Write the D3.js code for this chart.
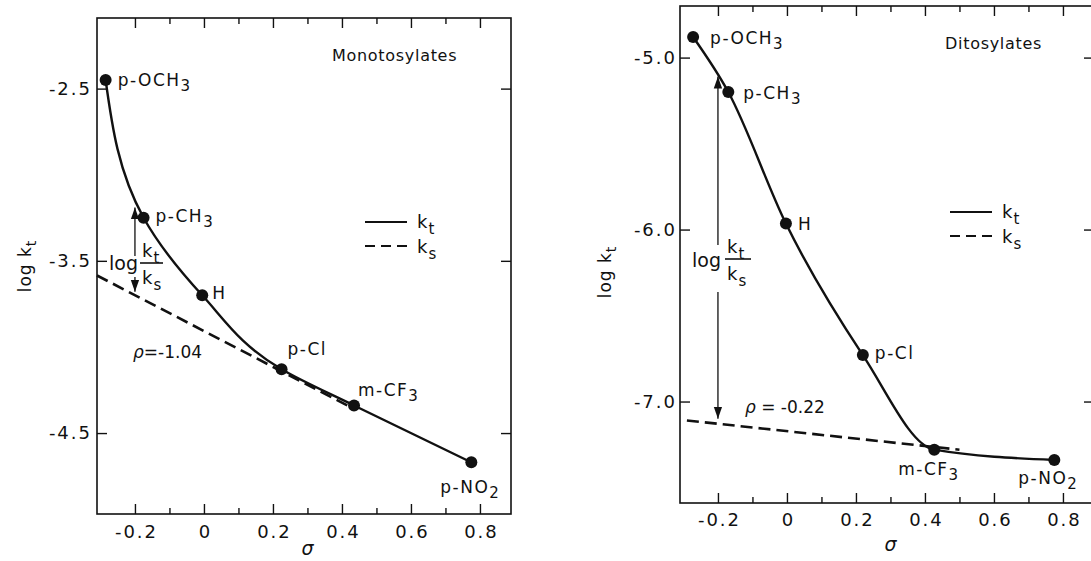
<!DOCTYPE html>
<html>
<head>
<meta charset="utf-8">
<script src="https://cdn.jsdelivr.net/npm/d3@7"></script>
<style>
  body { margin: 0; background: #fff; }
  svg text { font-family: "DejaVu Sans", "Liberation Sans", sans-serif; fill: #111; }
</style>
</head>
<body>
<svg id="chart" width="1091" height="561"></svg>
<script>
// substituents, in plotting order
const substituents = ["p-OCH3", "p-CH3", "H", "p-Cl", "m-CF3", "p-NO2"];

// sigma / log kt
const monoSigma = [-0.285, -0.175, -0.005, 0.225, 0.435, 0.775];
const monoLogKt = [-2.45, -3.25, -3.70, -4.13, -4.34, -4.67];
const diSigma = [-0.272, -0.17, -0.003, 0.22, 0.427, 0.775];
const diLogKt = [-4.88, -5.20, -5.965, -6.73, -7.28, -7.34];

// dashed ks lines (end points)
const monoKsSigma = [-0.31, 0.43];
const monoKsLog = [-3.585, -4.355];
const diKsSigma = [-0.29, 0.50];
const diKsLog = [-7.11, -7.28];

// vertical log(kt/ks) arrow: [ks, kt] at sigma = -0.2
const arrowSigma = -0.2;
const monoArrow = [-3.68, -3.19];
const diArrow = [-7.10, -5.11];

const xTicks = [-0.2, 0, 0.2, 0.4, 0.6, 0.8];
const xMinorTicks = [-0.1, 0.1, 0.3, 0.5, 0.7];
const monoYTicks = [-2.5, -3.5, -4.5];
const diYTicks = [-5.0, -6.0, -7.0];

const svg = d3.select("#chart");

// reusable arrow head
svg.append("defs").append("marker")
    .attr("id", "head")
    .attr("viewBox", "0 0 10 10")
    .attr("refX", 10).attr("refY", 5)
    .attr("markerWidth", 12).attr("markerHeight", 12)
    .attr("markerUnits", "userSpaceOnUse")
    .attr("orient", "auto-start-reverse")
    .append("path")
    .attr("d", "M0,1.5L10,5L0,8.5Z")
    .attr("fill", "#111");

// plain hyphen instead of the unicode minus d3 uses
const hy = s => s.replace("\u2212", "-");

// text with a trailing digit as subscript ("p-NO2" -> p-NO + sub 2)
function subText(g, str, x, y, size) {
    const t = g.append("text").attr("x", x).attr("y", y)
        .style("font-size", size + "px").style("letter-spacing", "1.5px");
    const m = str.match(/^(.*?)(\d)$/);
    if (m) {
        t.append("tspan").text(m[1]);
        t.append("tspan").attr("dy", 5).style("font-size", (size - 2) + "px").text(m[2]);
    } else {
        t.text(str);
    }
    return t;
}

function kSub(g, x, y, sub, size) {
    const t = g.append("text").attr("x", x).attr("y", y).style("font-size", size + "px");
    t.append("tspan").text("k");
    t.append("tspan").attr("dy", 6).attr("dx", 1).style("font-size", (size - 3) + "px").text(sub);
    return t;
}

function drawPanel(p) {
    const g = svg.append("g");
    const x = d3.scaleLinear().domain([-0.31, 0.89]).range([p.left, p.right]);
    const y = d3.scaleLinear().domain(p.yDomain).range([p.top, p.bottom]);
    const fmtX = d => d === 0 ? "0" : hy(d3.format(".1f")(d));
    const fmtY = d => hy(d3.format(".1f")(d));

    // axes, ticks pointing inward
    const bottom = g.append("g").attr("transform", `translate(0,${p.bottom})`)
        .call(d3.axisBottom(x).tickValues(xTicks).tickSizeInner(-10).tickSizeOuter(0)
            .tickPadding(p.xPad).tickFormat(fmtX));
    g.append("g").attr("transform", `translate(0,${p.bottom})`)
        .call(d3.axisBottom(x).tickValues(xMinorTicks).tickSize(-6).tickFormat(""));
    g.append("g").attr("transform", `translate(0,${p.top})`)
        .call(d3.axisTop(x).tickValues(xTicks).tickSize(-10).tickFormat(""));
    g.append("g").attr("transform", `translate(0,${p.top})`)
        .call(d3.axisTop(x).tickValues(xMinorTicks).tickSize(-6).tickFormat(""));
    g.append("g").attr("transform", `translate(${p.left},0)`)
        .call(d3.axisLeft(y).tickValues(p.yTicks).tickSizeInner(-10).tickSizeOuter(0)
            .tickPadding(p.yPad).tickFormat(fmtY));
    g.append("g").attr("transform", `translate(${p.right},0)`)
        .call(d3.axisRight(y).tickValues(p.yTicks).tickSize(-10).tickFormat(""));

    g.selectAll(".domain").remove();
    g.selectAll(".tick line").attr("stroke", "#111").attr("stroke-width", 1.4);
    g.selectAll(".tick text").attr("font-family", null)
        .style("font-size", "18px").style("letter-spacing", "2px");
    bottom.selectAll("text").attr("dx", 1);

    g.append("rect")
        .attr("x", p.left).attr("y", p.top)
        .attr("width", p.right - p.left).attr("height", p.bottom - p.top)
        .attr("fill", "none").attr("stroke", "#111").attr("stroke-width", 1.6);

    // axis titles
    const yt = g.append("text")
        .attr("transform", `translate(${p.yTitle[0]},${p.yTitle[1]}) rotate(-90)`)
        .attr("text-anchor", "middle").style("font-size", "17px").style("letter-spacing", "1px");
    yt.append("tspan").text("log k");
    yt.append("tspan").attr("dy", 5).style("font-size", "14px").text("t");
    g.append("text").attr("x", x(0.3)).attr("y", p.xTitleY)
        .attr("text-anchor", "middle").style("font-size", "19px")
        .style("font-style", "italic").text("σ");

    // ks dashed line
    const ks = d3.zip(p.ksSigma, p.ksLog);
    g.append("path")
        .attr("d", d3.line().x(d => x(d[0])).y(d => y(d[1]))(ks))
        .attr("fill", "none").attr("stroke", "#111")
        .attr("stroke-width", 2.6).attr("stroke-dasharray", "12,6");

    // kt smooth curve
    const pts = d3.zip(p.sigma, p.logKt);
    g.append("path")
        .attr("d", d3.line().x(d => x(d[0])).y(d => y(d[1])).curve(p.curve)(pts))
        .attr("fill", "none").attr("stroke", "#111").attr("stroke-width", 2.4);

    g.selectAll("circle.pt").data(pts).join("circle")
        .attr("class", "pt")
        .attr("cx", d => x(d[0])).attr("cy", d => y(d[1]))
        .attr("r", 6).attr("fill", "#111");

    substituents.forEach((s, i) => {
        const o = p.labelOff[i];
        subText(g, s, x(pts[i][0]) + o[0], y(pts[i][1]) + o[1], 17);
    });

    // log kt/ks arrow
    g.append("line")
        .attr("x1", x(arrowSigma)).attr("x2", x(arrowSigma))
        .attr("y1", y(p.arrow[0])).attr("y2", y(p.arrow[1]))
        .attr("stroke", "#111").attr("stroke-width", 1.3)
        .attr("marker-start", "url(#head)").attr("marker-end", "url(#head)");

    const a = p.ann;
    g.append("rect").attr("x", a.gap[0]).attr("y", a.gap[1])
        .attr("width", a.gap[2]).attr("height", a.gap[3]).attr("fill", "#fff");
    g.append("text").attr("x", a.logX).attr("y", a.logY)
        .style("font-size", "19px").text("log");
    g.append("line").attr("x1", a.barX1).attr("x2", a.barX2)
        .attr("y1", a.barY).attr("y2", a.barY)
        .attr("stroke", "#111").attr("stroke-width", 1.6);
    kSub(g, a.barX1 + 2, a.barY - 6, "t", 18);
    kSub(g, a.barX1 + 2, a.barY + 21, "s", 18);

    // rho
    const rt = g.append("text").attr("x", p.rho[0]).attr("y", p.rho[1]).style("font-size", "17px");
    rt.append("tspan").style("font-style", "italic").text("ρ");
    rt.append("tspan").text(p.rhoText);

    // legend
    const lg = p.legend;
    g.append("line").attr("x1", lg[0]).attr("x2", lg[0] + 42).attr("y1", lg[1]).attr("y2", lg[1])
        .attr("stroke", "#111").attr("stroke-width", 2.2);
    g.append("line").attr("x1", lg[0]).attr("x2", lg[0] + 42).attr("y1", lg[1] + 24).attr("y2", lg[1] + 24)
        .attr("stroke", "#111").attr("stroke-width", 2.2).attr("stroke-dasharray", "10,6");
    kSub(g, lg[0] + 52, lg[1] + 6, "t", 18);
    kSub(g, lg[0] + 52, lg[1] + 31, "s", 18);

    g.append("text").attr("x", p.title[0]).attr("y", p.title[1])
        .style("font-size", "16px").style("letter-spacing", "0.7px").text(p.titleText);
}

drawPanel({
    left: 97, right: 511, top: 18, bottom: 514,
    yDomain: [-2.09, -4.97], yTicks: monoYTicks, xPad: 11, yPad: 5,
    sigma: monoSigma, logKt: monoLogKt, curve: d3.curveMonotoneY,
    ksSigma: monoKsSigma, ksLog: monoKsLog, arrow: monoArrow,
    labelOff: [[12, 6], [12, 4], [10, 4], [6, -14], [4, -10], [-31, 31]],
    yTitle: [31, 266], xTitleY: 555,
    ann: { gap: [108, 256, 32, 21], logX: 109, logY: 270, barX1: 140, barX2: 163, barY: 263 },
    rho: [133, 358], rhoText: "=-1.04",
    legend: [365, 222],
    title: [332, 61], titleText: "Monotosylates"
});

drawPanel({
    left: 680, right: 1094, top: 6, bottom: 503,
    yDomain: [-4.70, -7.59], yTicks: diYTicks, xPad: 10, yPad: 3,
    sigma: diSigma, logKt: diLogKt, curve: d3.curveMonotoneX,
    ksSigma: diKsSigma, ksLog: diKsLog, arrow: diArrow,
    labelOff: [[17, 7], [15, 7], [12, 6], [12, 4], [-36, 25], [-36, 24]],
    yTitle: [611, 272], xTitleY: 551,
    ann: { gap: [690, 245, 34, 47], logX: 692, logY: 267, barX1: 725, barX2: 751, barY: 259 },
    rho: [745, 413], rhoText: " = -0.22",
    legend: [950, 212],
    title: [945, 49], titleText: "Ditosylates"
});
</script>
</body>
</html>
